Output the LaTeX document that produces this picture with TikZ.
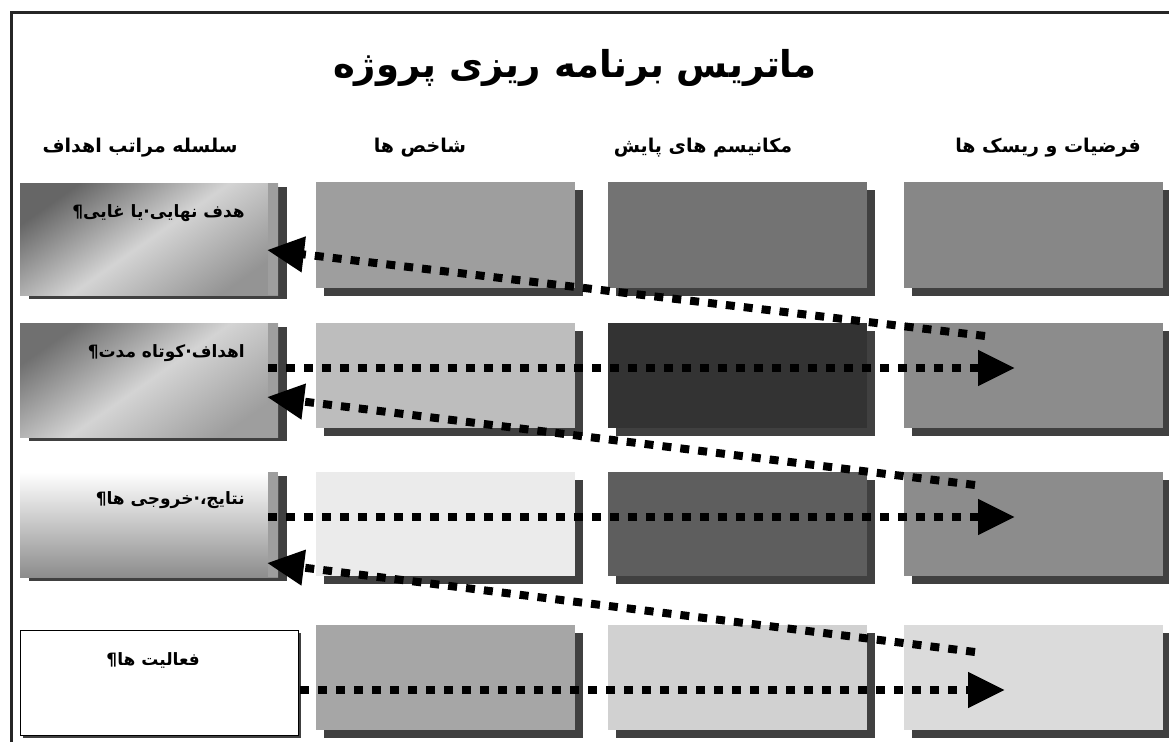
\documentclass[tikz,border=0pt]{standalone}
\usepackage{fontspec}
\newfontfamily\arabicfont[Script=Arabic]{DejaVu Sans}
\TeXXeTstate=1
\usetikzlibrary{arrows.meta,shadows}
\definecolor{shadowgray}{HTML}{404040}
\begin{document}
\begin{tikzpicture}[x=1pt,y=-1pt,
  cell/.style={draw=none, inner sep=0pt, minimum width=259pt, minimum height=106pt,
    anchor=north west,
    drop shadow={shadow xshift=8pt, shadow yshift=-8pt, fill=shadowgray, opacity=1}},
  goal/.style={draw=none, inner sep=0pt, minimum width=258pt, minimum height=112pt,
    anchor=north west,
    drop shadow={shadow xshift=9pt, shadow yshift=-4pt, fill=shadowgray, opacity=1},
    path picture={\fill[black!38] ([xshift=-10pt]path picture bounding box.north east)
      rectangle (path picture bounding box.south east);}},
  head/.style={font=\arabicfont\bfseries\fontsize{19}{22}\selectfont},
  lbl/.style={font=\arabicfont\bfseries\fontsize{17}{20}\selectfont, anchor=east, inner sep=0pt},
  flow/.style={line width=8pt, dash pattern=on 9pt off 9pt,
    -{Triangle[length=37pt,width=34pt]}}
]
\useasboundingbox (0,0) rectangle (1169,742);
\fill[white] (0,0) rectangle (1169,742);
% frame
\draw[line width=3pt, black!85] (11,742) -- (11,12) -- (1169,12);

% title and headers
\node[font=\arabicfont\bfseries\fontsize{37}{44}\selectfont] (title) at (575,68) {\beginR ماتریس برنامه ریزی پروژه\endR};
\node[head] (h1) at (140,148) {\beginR سلسله مراتب اهداف\endR};
\node[head] (h2) at (420,148) {\beginR شاخص ها\endR};
\node[head] (h3) at (703,148) {\beginR مکانیسم های پایش\endR};
\node[head] (h4) at (1048,148) {\beginR فرضیات و ریسک ها\endR};

% column 1 (goal hierarchy)
\node[goal, left color=black!60, right color=black!42, shading angle=35, middle color=black!17] (r1c1) at (20,183) {};
\node[goal, minimum height=114pt, left color=black!56, right color=black!38, shading angle=35, middle color=black!17] (r2c1) at (20,323) {};
\node[goal, minimum height=105pt, top color=white, bottom color=black!45] (r3c1) at (20,472) {};
\node[draw=black, line width=1pt, fill=white, inner sep=0pt, minimum width=278pt, minimum height=105pt, anchor=north west,
  drop shadow={shadow xshift=2pt, shadow yshift=-2.5pt, fill=shadowgray, opacity=1}] (r4c1) at (20,630) {};

\node[lbl] (l1) at (245,213) {\beginR هدف نهایی·یا غایی¶\endR};
\node[lbl] (l2) at (245,353) {\beginR اهداف·کوتاه مدت¶\endR};
\node[lbl] (l3) at (245,500) {\beginR نتایج،·خروجی ها¶\endR};
\node[lbl] (l4) at (200,660) {\beginR فعالیت ها¶\endR};

% columns 2-4
\node[cell, fill=black!38] (r1c2) at (316,182) {};
\node[cell, fill=black!55] (r1c3) at (608,182) {};
\node[cell, fill=black!47] (r1c4) at (904,182) {};

\node[cell, minimum height=105pt, fill=black!26] (r2c2) at (316,323) {};
\node[cell, minimum height=105pt, fill=black!80] (r2c3) at (608,323) {};
\node[cell, minimum height=105pt, fill=black!45] (r2c4) at (904,323) {};

\node[cell, minimum height=104pt, fill=black!8] (r3c2) at (316,472) {};
\node[cell, minimum height=104pt, fill=black!63] (r3c3) at (608,472) {};
\node[cell, minimum height=104pt, fill=black!45] (r3c4) at (904,472) {};

\node[cell, minimum height=105pt, fill=black!35] (r4c2) at (316,625) {};
\node[cell, minimum height=105pt, fill=black!18] (r4c3) at (608,625) {};
\node[cell, minimum height=105pt, fill=black!14] (r4c4) at (904,625) {};

% connector end points
\coordinate (a2s) at (268,368);  \coordinate (a2t) at (1015,368);
\coordinate (a3s) at (268,517);  \coordinate (a3t) at (1015,517);
\coordinate (a4s) at (300,690);  \coordinate (a4t) at (1005,690);
\coordinate (d1s) at (985,336);  \coordinate (d1t) at (267,250);
\coordinate (d2s) at (975,485);  \coordinate (d2t) at (267,397);
\coordinate (d3s) at (975,652);  \coordinate (d3t) at (267,563);

\draw[flow] (a2s) -- (a2t);
\draw[flow] (a3s) -- (a3t);
\draw[flow] (a4s) -- (a4t);
\draw[flow] (d1s) -- (d1t);
\draw[flow] (d2s) -- (d2t);
\draw[flow] (d3s) -- (d3t);
\end{tikzpicture}
\end{document}
